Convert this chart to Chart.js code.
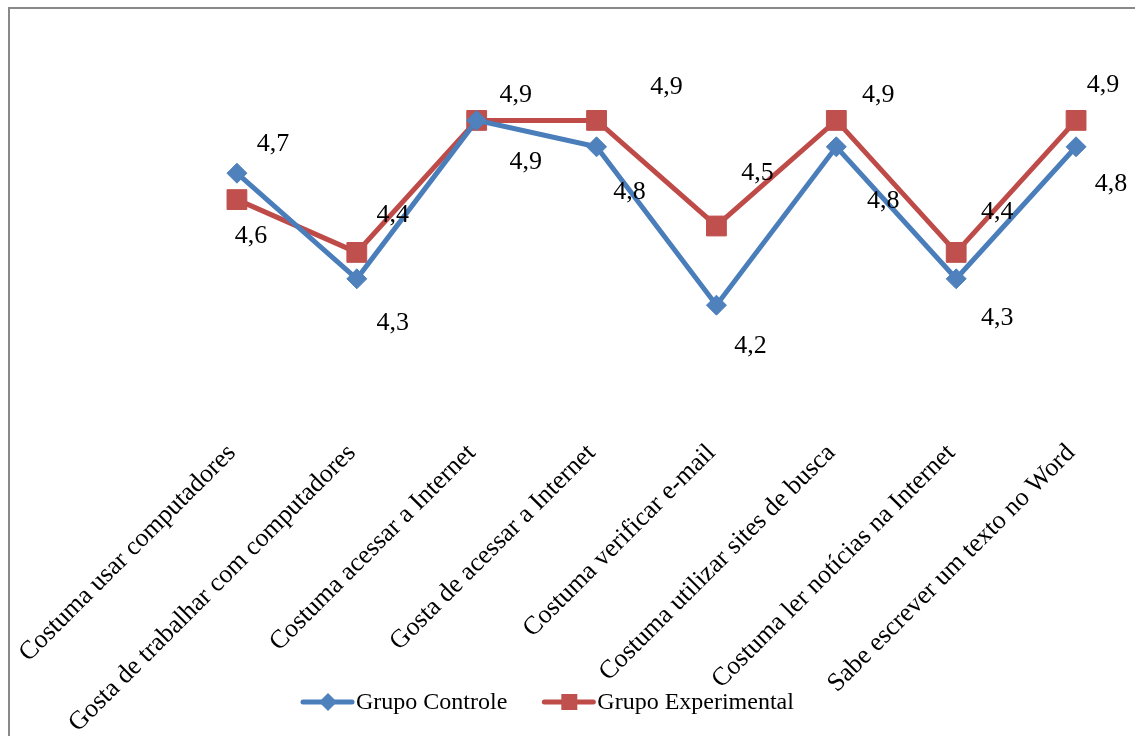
<!DOCTYPE html>
<html lang="pt-BR">
<head>
<meta charset="utf-8">
<title>Grupo Controle x Grupo Experimental</title>
<script src="https://cdn.jsdelivr.net/npm/chart.js@4.4.1/dist/chart.umd.min.js"></script>
<style>
  html, body { margin: 0; padding: 0; background: #fff; overflow: hidden; width: 1135px; height: 736px; }
  #frame { position: absolute; left: 8px; top: 7px; width: 1300px; height: 900px; border: 2px solid #898989; box-sizing: border-box; }
  #wrap { position: absolute; left: 0; top: 0; width: 1160px; height: 736px; }
</style>
</head>
<body>
<div id="frame"></div>
<div id="wrap"><canvas id="chart" width="1160" height="736"></canvas></div>
<script>
// Itens do questionário (eixo das categorias)
const categories = [
  'Costuma usar computadores',
  'Gosta de trabalhar com computadores',
  'Costuma acessar a Internet',
  'Gosta de acessar a Internet',
  'Costuma verificar e-mail',
  'Costuma utilizar sites de busca',
  'Costuma ler notícias na Internet',
  'Sabe escrever um texto no Word'
];
const seriesNames = ['Grupo Controle', 'Grupo Experimental'];
const controle     = [4.7, 4.3, 4.9, 4.8, 4.2, 4.8, 4.3, 4.8];
const experimental = [4.6, 4.4, 4.9, 4.9, 4.5, 4.9, 4.4, 4.9];

const FONT = '"Liberation Serif", "Times New Roman", serif';
const BLUE = '#4A7EBB', BLUE_MK = '#4F81BD';
const RED = '#BE4B48', RED_MK = '#C0504D';

// Deslocamento (px) de cada rótulo de valor em relação ao seu marcador
const labelOffsets = [
  [[36, -29], [36, 44], [49, 42], [33, 45], [34, 41], [47, 54], [41, 39], [35, 37]],
  [[14, 37], [36, -37], [39, -25], [70, -33], [41, -53], [42, -25], [41, -40], [27, -35]]
];

const valueLabels = {
  id: 'valueLabels',
  afterDatasetsDraw(chart) {
    const ctx = chart.ctx;
    ctx.save();
    ctx.font = '26px ' + FONT;
    ctx.fillStyle = '#000';
    ctx.textAlign = 'center';
    ctx.textBaseline = 'middle';
    chart.data.datasets.forEach((ds, i) => {
      const meta = chart.getDatasetMeta(i);
      meta.data.forEach((pt, j) => {
        const off = labelOffsets[i][j];
        const txt = ds.data[j].toFixed(1).replace('.', ',');
        ctx.fillText(txt, pt.x + off[0], pt.y + off[1]);
      });
    });
    ctx.restore();
  }
};

// Legenda no rodapé: traço com o marcador da série e o nome
const lineLegend = {
  id: 'lineLegend',
  afterDraw(chart) {
    const ctx = chart.ctx;
    const y = 702;
    ctx.save();
    ctx.font = '24px ' + FONT;
    ctx.textBaseline = 'middle';
    ctx.textAlign = 'left';
    let x = 303;
    chart.data.datasets.forEach((ds, i) => {
      ctx.strokeStyle = ds.borderColor;
      ctx.lineWidth = 5;
      ctx.lineCap = 'round';
      ctx.beginPath();
      ctx.moveTo(x, y);
      ctx.lineTo(x + 49, y);
      ctx.stroke();
      const cx = x + 25;
      ctx.fillStyle = ds.pointBackgroundColor;
      ctx.beginPath();
      if (ds.pointStyle === 'rectRot') {
        const r = 9;
        ctx.moveTo(cx - r, y); ctx.lineTo(cx, y - r); ctx.lineTo(cx + r, y); ctx.lineTo(cx, y + r);
        ctx.closePath();
      } else {
        ctx.rect(cx - 8, y - 8, 16, 16);
      }
      ctx.fill();
      ctx.fillStyle = '#000';
      ctx.fillText(ds.label, x + 53, y + 1);
      x += 53 + ctx.measureText(ds.label).width + 37;
    });
    ctx.restore();
  }
};

new Chart(document.getElementById('chart'), {
  type: 'line',
  data: {
    labels: categories,
    datasets: [
      {
        label: seriesNames[0],
        data: controle,
        borderColor: BLUE,
        backgroundColor: BLUE,
        borderWidth: 5,
        pointStyle: 'rectRot',
        pointRadius: 10,
        pointBackgroundColor: BLUE_MK,
        pointBorderColor: BLUE_MK,
        pointBorderWidth: 1,
        tension: 0,
        clip: false
      },
      {
        label: seriesNames[1],
        data: experimental,
        borderColor: RED,
        backgroundColor: RED,
        borderWidth: 5,
        pointStyle: 'rect',
        pointRadius: 14,
        pointBackgroundColor: RED_MK,
        pointBorderColor: RED_MK,
        pointBorderWidth: 1,
        tension: 0,
        clip: false
      }
    ]
  },
  options: {
    responsive: false,
    animation: false,
    events: [],
    layout: { padding: { left: 177, right: 24, top: 94, bottom: 0 } },
    plugins: {
      legend: { display: false },
      tooltip: { enabled: false },
      title: { display: false }
    },
    scales: {
      x: {
        type: 'category',
        offset: true,
        grid: { display: false, drawTicks: false },
        border: { display: false },
        ticks: {
          autoSkip: false,
          minRotation: 45,
          maxRotation: 45,
          padding: 80,
          labelOffset: -5,
          color: '#000',
          font: { family: FONT, size: 26 }
        },
        afterFit(scale) {
          scale.paddingLeft = 0;
          scale.paddingRight = 0;
          scale.height = 378;
        }
      },
      y: {
        display: false,
        min: 4.0,
        max: 5.0
      }
    }
  },
  plugins: [valueLabels, lineLegend]
});
</script>
</body>
</html>
